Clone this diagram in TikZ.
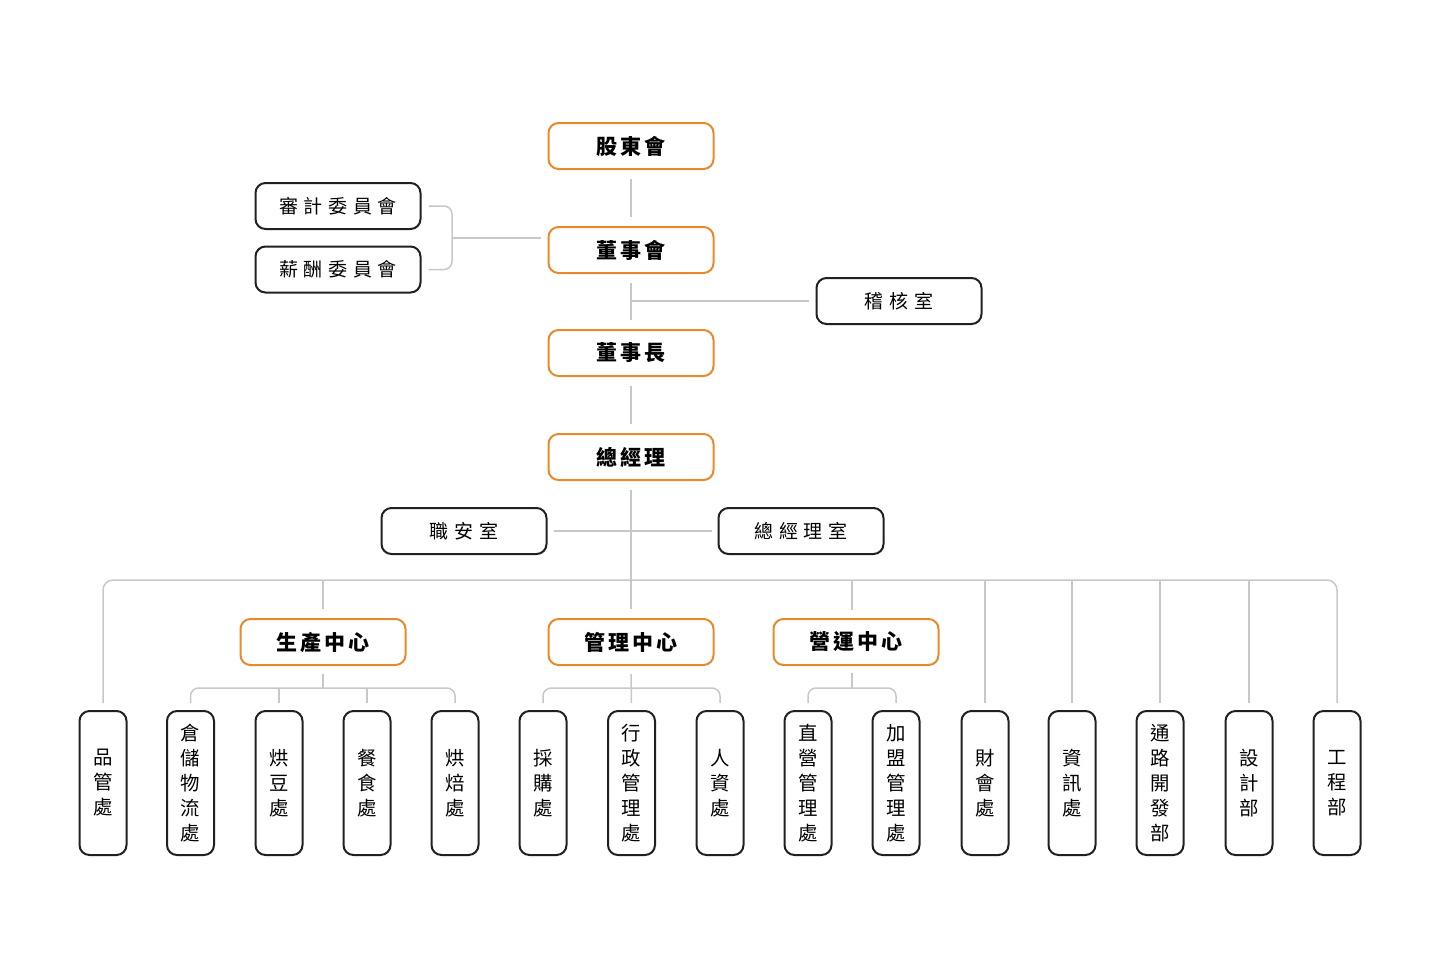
\documentclass[tikz,border=0pt]{standalone}
\usepackage{fontspec}
\newfontfamily\cjk{Noto Sans CJK TC}[LetterSpace=30]
\newfontfamily\cjkb{Noto Sans CJK TC}[LetterSpace=13]
\newfontfamily\cjkv{Noto Sans CJK TC}
\definecolor{orangeC}{RGB}{232,137,44}
\definecolor{darkC}{RGB}{35,31,32}
\definecolor{grayC}{RGB}{200,200,200}
\begin{document}
\begin{tikzpicture}[x=0.5pt,y=-0.5pt,
  ob/.style={draw=orangeC, line width=1pt, rounded corners=5pt, minimum width=82.5pt, minimum height=23pt, inner sep=0pt, font=\cjkb\bfseries\fontsize{10.5}{12}\selectfont},
  kb/.style={draw=darkC, line width=1pt, rounded corners=5pt, minimum width=82.5pt, minimum height=23pt, inner sep=0pt, font=\cjk\fontsize{9.5}{12}\selectfont},
  vb/.style={draw=darkC, line width=1pt, rounded corners=5pt, minimum width=23.5pt, minimum height=72pt, inner sep=0pt, align=center, font=\cjkv\fontsize{9.7}{12.5}\selectfont},
  gl/.style={draw=grayC, line width=0.75pt}]
\useasboundingbox[fill=white] (0,0) rectangle (1440,960);
% top column
\node[ob] (sh) at (631,146) {股東會};
\node[ob] (bod) at (631,250) {董事會};
\node[ob] (chair) at (631,353) {董事長};
\node[ob] (gm) at (631,457) {總經理};
\node[kb] (aud) at (338,206) {審計委員會};
\node[kb] (pay) at (338,269.5) {薪酬委員會};
\node[kb] (audit) at (899,301) {稽核室};
\node[kb] (ohs) at (464,531) {職安室};
\node[kb] (gmo) at (801,531) {總經理室};
% centers
\node[ob] (sc) at (323,642) {生產中心};
\node[ob] (mc) at (631,642) {管理中心};
\node[ob] (oc) at (856,642) {營運中心};
% bottom row
\node[vb] (qc) at (103,783) {品\\管\\處};
\node[vb] (wh) at (190.5,783) {倉\\儲\\物\\流\\處};
\node[vb] (rb) at (279,783) {烘\\豆\\處};
\node[vb] (fd) at (367,783) {餐\\食\\處};
\node[vb] (bk) at (455,783) {烘\\焙\\處};
\node[vb] (pu) at (543,783) {採\\購\\處};
\node[vb] (ad) at (631.5,783) {行\\政\\管\\理\\處};
\node[vb] (hr) at (720,783) {人\\資\\處};
\node[vb] (ds) at (808,783) {直\\營\\管\\理\\處};
\node[vb] (fr) at (896,783) {加\\盟\\管\\理\\處};
\node[vb] (fa) at (985,783) {財\\會\\處};
\node[vb] (it) at (1072,783) {資\\訊\\處};
\node[vb] (ch) at (1160,783) {通\\路\\開\\發\\部};
\node[vb] (dg) at (1249,783) {設\\計\\部};
\node[vb] (en) at (1337,783) {工\\程\\部};
% coordinates
\coordinate (brk) at (452,238);
\coordinate (aj) at (631,301);
\coordinate (bus) at (631,580);
\coordinate (sb) at (323,688);
\coordinate (mb) at (631,688);
\coordinate (ob) at (852,688);
% spine
\draw[gl, shorten <=4.5pt, shorten >=4.5pt] (sh.south) -- (bod.north);
\draw[gl, shorten <=4.5pt, shorten >=4.5pt] (bod.south) -- (chair.north);
\draw[gl, shorten >=3.5pt] (aj) -- (audit.west |- aj);
\draw[gl, shorten <=4.5pt, shorten >=4.5pt] (chair.south) -- (gm.north);
\draw[gl, shorten <=4.5pt] (gm.south) -- (bus);
\draw[gl, shorten >=4.5pt] (bus) -- (mc.north);
\draw[gl, shorten <=3pt, shorten >=3pt] (ohs.east) -- (gmo.west);
% committees
\draw[gl, rounded corners=4pt] ([xshift=3.5pt]aud.east) -| (brk) |- ([xshift=3.5pt]pay.east);
\draw[gl, shorten >=3.5pt] (brk) -- (bod.west |- brk);
% bus
\draw[gl, rounded corners=5pt] ([yshift=3.5pt]qc.north) |- (bus) -| ([yshift=3.5pt]en.north);
\draw[gl, shorten >=4.5pt] (sc.north |- bus) -- (sc.north);
\draw[gl, shorten >=4.5pt] (852,580) -- (852,619);
\foreach \n in {fa,it,ch,dg}{\draw[gl, shorten >=3.5pt] (\n.north |- bus) -- (\n.north);}
% production
\draw[gl, shorten <=4pt] (sc.south) -- (sb);
\draw[gl, rounded corners=4pt] ([yshift=3.5pt]wh.north) |- (sb) -| ([yshift=3.5pt]bk.north);
\draw[gl, shorten >=3.5pt] (rb.north |- sb) -- (rb.north);
\draw[gl, shorten >=3.5pt] (fd.north |- sb) -- (fd.north);
% management
\draw[gl, shorten <=4pt, shorten >=3.5pt] (mc.south) -- (ad.north);
\draw[gl, rounded corners=4pt] ([yshift=3.5pt]pu.north) |- (mb) -| ([yshift=3.5pt]hr.north);
% operations
\draw[gl, shorten <=4pt] (852,665) -- (ob);
\draw[gl, rounded corners=4pt] ([yshift=3.5pt]ds.north) |- (ob) -| ([yshift=3.5pt]fr.north);
\end{tikzpicture}
\end{document}
